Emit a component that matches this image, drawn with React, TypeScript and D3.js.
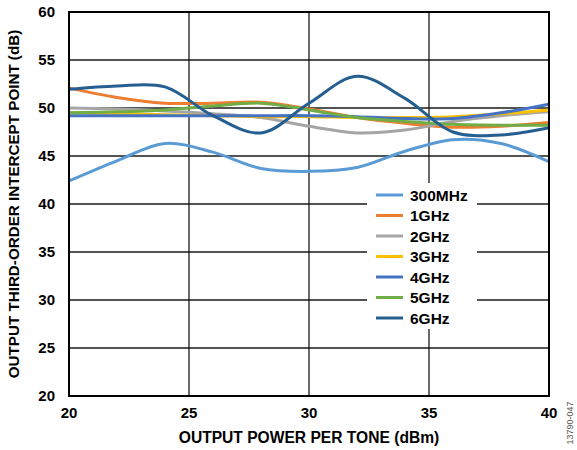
import React from "react";
import * as d3 from "d3";

const xValues = [20, 22, 24, 26, 28, 30, 32, 34, 36, 38, 40];
const seriesNames = ["300MHz", "1GHz", "2GHz", "3GHz", "4GHz", "5GHz", "6GHz"];
const seriesColors = ["#5B9BD5", "#ED7D31", "#A5A5A5", "#FFC000", "#4472C4", "#70AD47", "#255E91"];
const s300MHz = [42.4, 44.5, 46.3, 45.4, 43.7, 43.4, 43.8, 45.5, 46.7, 46.3, 44.4];
const s1GHz = [52.1, 51.1, 50.5, 50.5, 50.6, 49.9, 49.0, 48.4, 48.0, 48.1, 48.5];
const s2GHz = [50.0, 49.9, 49.7, 49.4, 49.0, 48.1, 47.4, 47.7, 48.6, 49.2, 49.6];
const s3GHz = [49.5, 49.4, 49.3, 49.2, 49.1, 49.1, 49.0, 49.0, 49.1, 49.4, 49.8];
const s4GHz = [49.2, 49.2, 49.2, 49.2, 49.2, 49.2, 49.1, 48.9, 48.9, 49.5, 50.4];
const s5GHz = [49.5, 49.6, 49.8, 50.2, 50.5, 49.8, 49.0, 48.6, 48.3, 48.2, 48.2];
const s6GHz = [51.95, 52.3, 52.2, 49.2, 47.4, 50.5, 53.3, 51.0, 47.5, 47.2, 47.95];
const allSeries = [s300MHz, s1GHz, s2GHz, s3GHz, s4GHz, s5GHz, s6GHz];
const xTicks = [20, 25, 30, 35, 40];
const yTicks = [20, 25, 30, 35, 40, 45, 50, 55, 60];

const W = 577, H = 450;
const L = 69, R = 549, T = 12, B = 396;
const FONT = "'Liberation Sans', Arial, sans-serif";

export default function App() {
  const x = d3.scaleLinear().domain([20, 40]).range([L, R]);
  const y = d3.scaleLinear().domain([20, 60]).range([B, T]);
  const line = d3
    .line<number>()
    .x((_, i) => x(xValues[i]))
    .y((d) => y(d))
    .curve(d3.curveCatmullRom.alpha(0.5));

  const legX = 376, legY0 = 195, legDy = 20.5;

  return (
    <svg width={W} height={H} style={{ position: "absolute", left: 0, top: 0, background: "#fff" }}>
      {yTicks.map((t) => (
        <line key={"gy" + t} x1={L} x2={R} y1={y(t)} y2={y(t)} stroke="#1a1a1a" strokeWidth={1.3} />
      ))}
      {xTicks.map((t) => (
        <line key={"gx" + t} x1={x(t)} x2={x(t)} y1={T} y2={B} stroke="#1a1a1a" strokeWidth={1.3} />
      ))}
      <rect x={367} y={183} width={110} height={146} fill="#fff" />
      {allSeries.map((s, i) => (
        <path key={seriesNames[i]} d={line(s) || ""} fill="none" stroke={seriesColors[i]} strokeWidth={3} />
      ))}
      <rect x={L} y={T} width={R - L} height={B - T} fill="none" stroke="#000" strokeWidth={2} />
      {yTicks.map((t) => (
        <text key={"ty" + t} x={55} y={y(t)} dy="0.36em" textAnchor="end" fontFamily={FONT} fontWeight="bold" fontSize={15} fill="#000">
          {t}
        </text>
      ))}
      {xTicks.map((t) => (
        <text key={"tx" + t} x={x(t)} y={413} dy="0.36em" textAnchor="middle" fontFamily={FONT} fontWeight="bold" fontSize={15} fill="#000">
          {t}
        </text>
      ))}
      <text x={309} y={437} dy="0.36em" textAnchor="middle" fontFamily={FONT} fontWeight="bold" fontSize={15.6} fill="#000">
        OUTPUT POWER PER TONE (dBm)
      </text>
      <text transform={`translate(14,${(T + B) / 2}) rotate(-90)`} dy="0.36em" textAnchor="middle" fontFamily={FONT} fontWeight="bold" fontSize={15.2} fill="#000">
        OUTPUT THIRD-ORDER INTERCEPT POINT (dB)
      </text>
      {seriesNames.map((n, i) => (
        <g key={"leg" + n}>
          <line x1={legX} x2={legX + 27} y1={legY0 + i * legDy} y2={legY0 + i * legDy} stroke={seriesColors[i]} strokeWidth={3} />
          <text x={legX + 34} y={legY0 + i * legDy} dy="0.36em" fontFamily={FONT} fontWeight="bold" fontSize={15.5} fill="#000">
            {n}
          </text>
        </g>
      ))}
      <text transform="translate(570,423) rotate(-90)" dy="0.36em" textAnchor="middle" fontFamily={FONT} fontSize={9} fill="#555">
        13790-047
      </text>
    </svg>
  );
}
